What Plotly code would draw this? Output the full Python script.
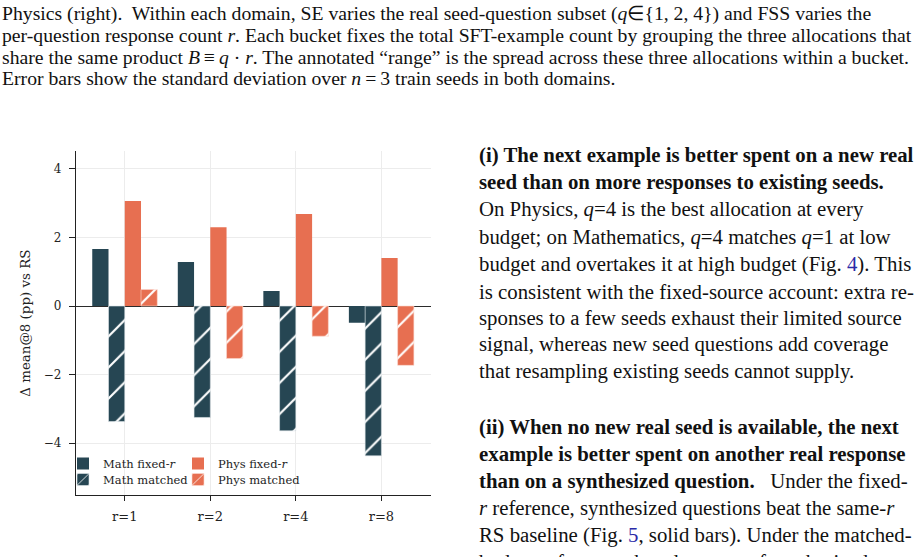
import plotly.graph_objects as go

W, H = 924, 557

categories = ["r=1", "r=2", "r=4", "r=8"]
math_fixed = [1.66, 1.28, 0.44, -0.49]
math_matched = [-3.37, -3.25, -3.64, -4.37]
phys_fixed = [3.06, 2.30, 2.68, 1.40]
phys_matched = [0.48, -1.53, -0.88, -1.73]
ytick_vals = [4, 2, 0, -2, -4]

DARK = "#264653"
ORANGE = "#E76F51"

def px(x):
    return x / W

def py(y):
    return 1 - y / H

fig = go.Figure()
fig.add_trace(go.Bar(x=categories, y=math_fixed, name="Math fixed-<i>r</i>",
                     marker=dict(color=DARK, line=dict(width=0)), legend="legend"))
fig.add_trace(go.Bar(x=categories, y=math_matched, name="Math matched",
                     marker=dict(color=DARK, line=dict(color="#dfe6ea", width=0.6),
                                 pattern=dict(shape="/", fgcolor="white", bgcolor=DARK,
                                              size=22, solidity=0.1, fillmode="replace")),
                     legend="legend3"))
fig.add_trace(go.Bar(x=categories, y=phys_fixed, name="Phys fixed-<i>r</i>",
                     marker=dict(color=ORANGE, line=dict(width=0)), legend="legend2"))
fig.add_trace(go.Bar(x=categories, y=phys_matched, name="Phys matched",
                     marker=dict(color=ORANGE, line=dict(color="#fbd9cf", width=0.6),
                                 pattern=dict(shape="/", fgcolor="white", bgcolor=ORANGE,
                                              size=22, solidity=0.1, fillmode="replace")),
                     legend="legend4"))

serif = "DejaVu Serif"
leg_common = dict(orientation="v", xanchor="left", yanchor="top",
                  bgcolor="rgba(0,0,0,0)", borderwidth=0,
                  font=dict(family=serif, size=11.5, color="#222"),
                  itemwidth=30)
fig.update_layout(
    width=W, height=H,
    margin=dict(l=0, r=0, t=0, b=0),
    paper_bgcolor="white", plot_bgcolor="white",
    barmode="group", bargap=0.24, bargroupgap=0,
    font=dict(family=serif, size=12, color="#222"),
    xaxis=dict(domain=[px(76), px(431)], range=[-0.57, 3.58],
               showgrid=True, gridcolor="#ececec", gridwidth=1,
               showline=True, linecolor="#222", linewidth=1.3,
               ticks="outside", ticklen=5, tickcolor="#222",
               ticklabelstandoff=4,
               tickfont=dict(family=serif, size=13, color="#222"),
               zeroline=False, fixedrange=True),
    yaxis=dict(domain=[py(495.3), py(151)], range=[-5.52, 4.52],
               tickvals=ytick_vals,
               showgrid=True, gridcolor="#ececec", gridwidth=1,
               showline=True, linecolor="#222", linewidth=1.3,
               ticks="outside", ticklen=6, tickcolor="#222",
               ticklabelstandoff=5,
               zeroline=True, zerolinecolor="#2b2b2b", zerolinewidth=1.3,
               tickfont=dict(family=serif, size=12, color="#222"),
               title=dict(text="Δ mean@8 (pp) vs RS", standoff=10,
                          font=dict(family=serif, size=13.4, color="#222"))),
    legend=dict(x=px(63), y=py(449), **leg_common),
    legend2=dict(x=px(178), y=py(449), **leg_common),
    legend3=dict(x=px(63), y=py(465), **leg_common),
    legend4=dict(x=px(178), y=py(465), **leg_common),
    showlegend=True,
)

# Surrounding page text
T = "\u2009"
cap_font = dict(family="Liberation Serif", size=19.7, color="#111")
caption = [
    "Physics (right).  Within each domain, SE varies the real seed-question subset (<i>q</i>∈{1, 2, 4}) and FSS varies the",
    "per-question response count <i>r</i>. Each bucket fixes the total SFT-example count by grouping the three allocations that",
    f"share the same product <i>B</i>{T}≡{T}<i>q</i> · <i>r</i>. The annotated “range” is the spread across these three allocations within a bucket.",
    f"Error bars show the standard deviation over <i>n</i>{T}={T}3 train seeds in both domains.",
]
cap_y = [13, 35, 57, 78]
for t, y in zip(caption, cap_y):
    fig.add_annotation(text=t, x=px(0), y=py(y), xref="paper", yref="paper",
                       xanchor="left", yanchor="middle", showarrow=False,
                       font=cap_font, align="left")

body_font = dict(family="Liberation Serif", size=20.8, color="#111")
LINK = "#2a2aa8"
body = [
    ("<b>(i) The next example is better spent on a new real</b>", 155),
    ("<b>seed than on more responses to existing seeds.</b>", 182),
    ("On Physics, <i>q</i>=4 is the best allocation at every", 209),
    ("budget; on Mathematics, <i>q</i>=4 matches <i>q</i>=1 at low", 236.5),
    (f"budget and overtakes it at high budget (Fig. <span style='color:{LINK}'>4</span>). This", 264),
    ("is consistent with the fixed-source account: extra re-", 291),
    ("sponses to a few seeds exhaust their limited source", 318),
    ("signal, whereas new seed questions add coverage", 343.5),
    ("that resampling existing seeds cannot supply.", 370.5),
    ("<b>(ii) When no new real seed is available, the next</b>", 426.5),
    ("<b>example is better spent on another real response</b>", 454),
    ("<b>than on a synthesized question.</b>   Under the fixed-", 481),
    ("<i>r</i> reference, synthesized questions beat the same-<i>r</i>", 508),
    (f"RS baseline (Fig. <span style='color:{LINK}'>5</span>, solid bars). Under the matched-", 535),
    ("budget reference, the advantage of synthesized", 562),
]
for t, y in body:
    fig.add_annotation(text=t, x=px(477), y=py(y), xref="paper", yref="paper",
                       xanchor="left", yanchor="middle", showarrow=False,
                       font=body_font, align="left")

fig.write_html("out.html")
